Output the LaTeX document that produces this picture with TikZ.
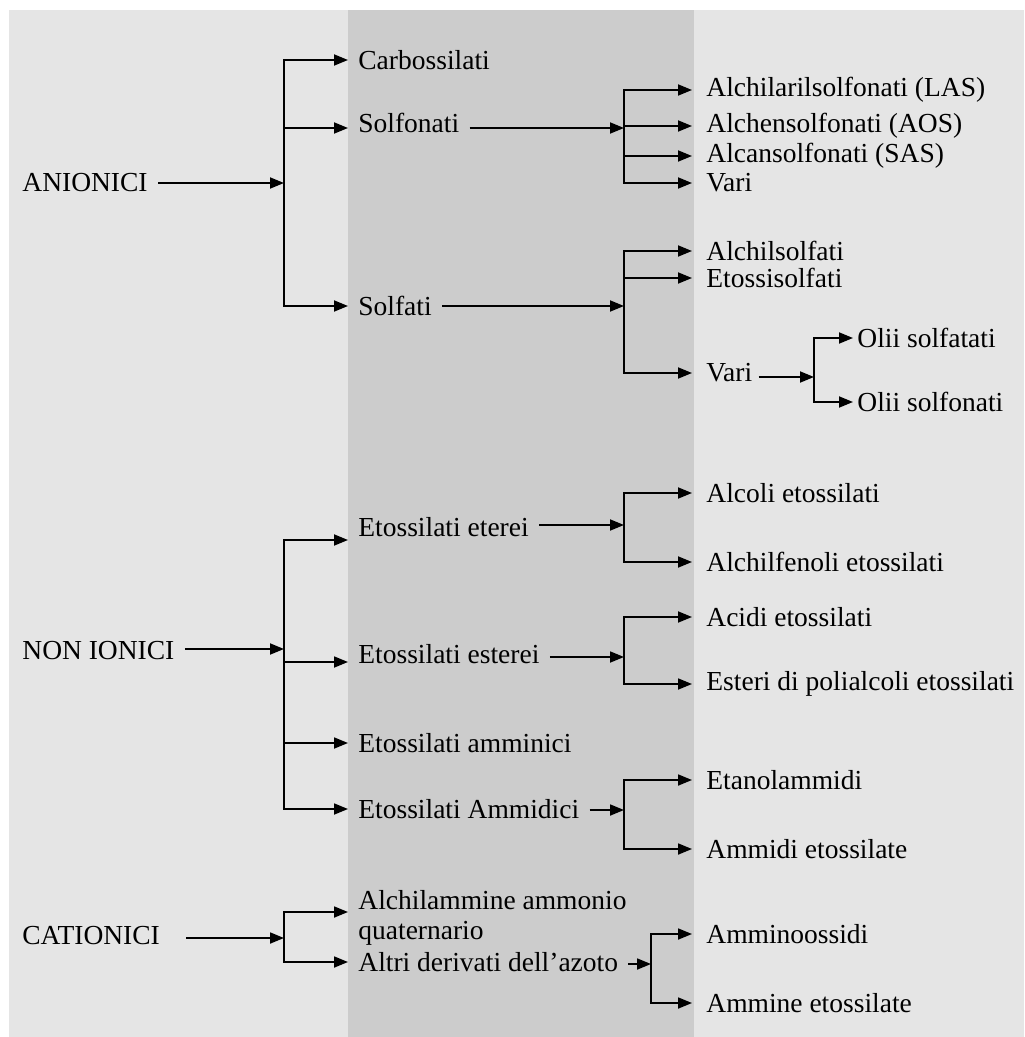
\documentclass[tikz,border=0pt]{standalone}
\usepackage{fontspec}
\setmainfont{Liberation Serif}
\usetikzlibrary{arrows.meta}
\definecolor{paneLight}{RGB}{229,229,229}
\definecolor{paneDark}{RGB}{204,204,204}

\begin{document}
\begin{tikzpicture}[x=0.5pt, y=-0.5pt,
    cls/.style={anchor=west, inner xsep=5pt, inner ysep=1pt,
                font=\fontsize{13.75}{15}\selectfont, text=black},
    sub/.style={cls, inner xsep=7pt},
    oil/.style={cls, inner xsep=2pt},
    arr/.style={-{Triangle[length=7pt,width=5.5pt]}, line width=0.9pt}]
    \fill[white] (0,0) rectangle (1024,1037);
    \fill[paneLight] (9,10) rectangle (1024,1037);
    \fill[paneDark] (348,10) rectangle (694,1037);
    \useasboundingbox (0,0) rectangle (1024,1037);

    \node[cls] (anionici)  at (12,183) {ANIONICI};
    \node[cls] (nonionici) at (12,651) {NON IONICI};
    \node[cls] (cationici) at (12,936) {CATIONICI};

    \node[cls] (carb)      at (348,60)  {Carbossilati};
    \node[cls] (solfonati) at (348,123) {Solfonati};
    \node[cls] (solfati)   at (348,306) {Solfati};
    \node[cls] (eterei)    at (348,527) {Etossilati eterei};
    \node[cls] (esterei)   at (348,654) {Etossilati esterei};
    \node[cls] (amminici)  at (348,743) {Etossilati amminici};
    \node[cls] (ammidici)  at (348,809) {Etossilati Ammidici};
    \node[cls, align=left] (alchilamm) at (348,918) {Alchilammine ammonio\\quaternario};
    \node[cls] (azoto)     at (348,962) {Altri derivati dell'azoto};

    \node[sub] (las)        at (692,90)   {Alchilarilsolfonati (LAS)};
    \node[sub] (aos)        at (692,126)  {Alchensolfonati (AOS)};
    \node[sub] (sas)        at (692,156)  {Alcansolfonati (SAS)};
    \node[sub] (varisn)     at (692,183)  {Vari};
    \node[sub] (alchilsolf) at (692,251)  {Alchilsolfati};
    \node[sub] (etossisolf) at (692,278)  {Etossisolfati};
    \node[sub] (varisf)     at (692,373)  {Vari};
    \node[oil] (oliifat)    at (853,338)  {Olii solfatati};
    \node[oil] (oliifon)    at (853,402)  {Olii solfonati};
    \node[sub] (alcoli)     at (692,493)  {Alcoli etossilati};
    \node[sub] (fenoli)     at (692,562)  {Alchilfenoli etossilati};
    \node[sub] (acidi)      at (692,617)  {Acidi etossilati};
    \node[sub] (esteri)     at (692,684)  {Esteri di polialcoli etossilati};
    \node[sub] (etanol)     at (692,780)  {Etanolammidi};
    \node[sub] (ammidi)     at (692,849)  {Ammidi etossilate};
    \node[sub] (amminoox)   at (692,934)  {Amminoossidi};
    \node[sub] (ammine)     at (692,1003) {Ammine etossilate};

    \coordinate (jA)  at (284,183);
    \coordinate (jSn) at (624,128);
    \coordinate (jSf) at (624,306);
    \coordinate (jV)  at (814,377);
    \coordinate (jN)  at (284,649);
    \coordinate (jEt) at (624,525);
    \coordinate (jEs) at (624,657);
    \coordinate (jAm) at (624,810);
    \coordinate (jC)  at (284,938);
    \coordinate (jAz) at (651,964);

    \draw[arr] (anionici.east |- jA) -- (jA);
    \draw[arr] (jA) |- (carb.west); \draw[arr] (jA) |- ([yshift=-2.5pt]solfonati.west);
    \draw[arr] (jA) |- (solfati.west);
    \draw[arr] (solfonati.east |- jSn) -- (jSn);
    \draw[arr] (jSn) |- (las.west); \draw[arr] (jSn) |- (aos.west);
    \draw[arr] (jSn) |- (sas.west); \draw[arr] (jSn) |- (varisn.west);
    \draw[arr] (solfati.east |- jSf) -- (jSf);
    \draw[arr] (jSf) |- (alchilsolf.west); \draw[arr] (jSf) |- (etossisolf.west);
    \draw[arr] (jSf) |- (varisf.west);
    \draw[arr] ([xshift=-4pt]varisf.east |- jV) -- (jV);
    \draw[arr] (jV) |- (oliifat.west); \draw[arr] (jV) |- (oliifon.west);

    \draw[arr] (nonionici.east |- jN) -- (jN);
    \draw[arr] (jN) |- ([yshift=-6.5pt]eterei.west); \draw[arr] (jN) |- ([yshift=-4pt]esterei.west);
    \draw[arr] (jN) |- (amminici.west); \draw[arr] (jN) |- (ammidici.west);
    \draw[arr] (eterei.east |- jEt) -- (jEt);
    \draw[arr] (jEt) |- (alcoli.west); \draw[arr] (jEt) |- (fenoli.west);
    \draw[arr] (esterei.east |- jEs) -- (jEs);
    \draw[arr] (jEs) |- (acidi.west); \draw[arr] (jEs) |- (esteri.west);
    \draw[arr] (ammidici.east |- jAm) -- (jAm);
    \draw[arr] (jAm) |- (etanol.west); \draw[arr] (jAm) |- (ammidi.west);

    \draw[arr] ([xshift=8pt]cationici.east |- jC) -- (jC);
    \draw[arr] (jC) |- ([yshift=3pt]alchilamm.west); \draw[arr] (jC) |- (azoto.west);
    \draw[arr] (azoto.east |- jAz) -- (jAz);
    \draw[arr] (jAz) |- (amminoox.west); \draw[arr] (jAz) |- (ammine.west);
\end{tikzpicture}
\end{document}
